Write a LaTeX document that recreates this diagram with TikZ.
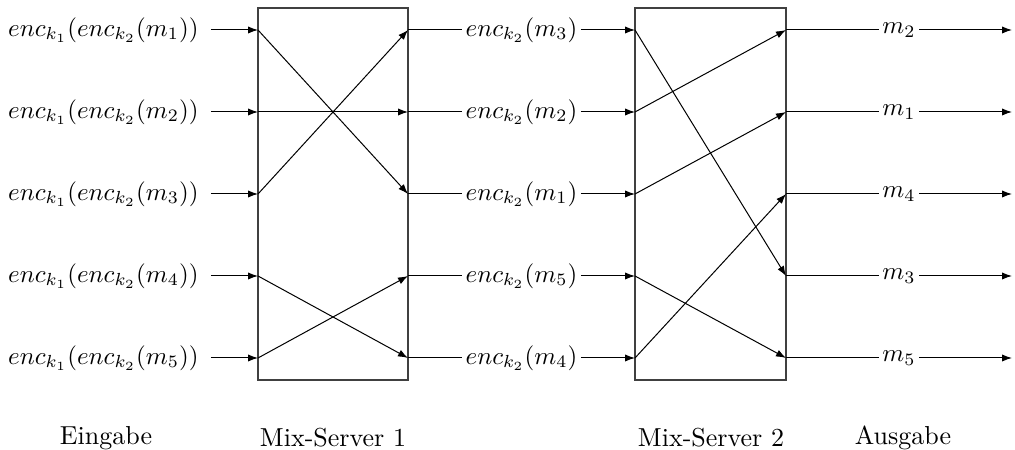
\documentclass[tikz,border=0pt]{standalone}
\usetikzlibrary{arrows.meta,fit,calc}
\begin{document}
\begin{tikzpicture}[x=0.40pt,y=-0.40pt,
  mixbox/.style={draw=black!75,line width=0.5pt,inner sep=0pt},
  flow/.style={line width=0.4pt},
  arr/.style={flow,-{Latex[length=4pt,width=2.9pt]}},
  lbl/.style={inner sep=1.2pt},
  caption/.style={font=\fontsize{10.4}{12}\selectfont}]
\useasboundingbox (0,0) rectangle (1015,450);

% port coordinates of both mix servers and the output ends
\foreach \i in {1,...,5}{
  \pgfmathsetmacro{\yy}{30+82*(\i-1)}
  \coordinate (A\i) at (258,\yy);
  \coordinate (B\i) at (408,\yy);
  \coordinate (C\i) at (635,\yy);
  \coordinate (D\i) at (786,\yy);
  \coordinate (E\i) at (1012,\yy);
}

% the two mix servers
\coordinate (m1nw) at (258,8);  \coordinate (m1se) at (408,380);
\coordinate (m2nw) at (635,8);  \coordinate (m2se) at (786,380);
\node[mixbox,fit=(m1nw)(m1se)] (mix1) {};
\node[mixbox,fit=(m2nw)(m2se)] (mix2) {};

% inputs
\foreach \i/\m in {1/1,2/2,3/3,4/4,5/5}{
  \node[lbl,anchor=east] (in\i) at (202,{30+82*(\i-1)}) {$enc_{k_1}(enc_{k_2}(m_{\m}))$};
  \draw[arr,shorten <=3.5pt] (in\i.east) -- (A\i);
}

% intermediate ciphertexts
\foreach \i/\m in {1/3,2/2,3/1,4/5,5/4}{
  \node[lbl] (mid\i) at ($(B\i)!0.5!(C\i)$) {$enc_{k_2}(m_{\m})$};
  \draw[flow] (B\i) -- (mid\i);
  \draw[arr] (mid\i) -- (C\i);
}

% outputs
\foreach \i/\m in {1/2,2/1,3/4,4/3,5/5}{
  \node[lbl] (out\i) at ($(D\i)!0.5!(E\i)$) {$m_{\m}$};
  \draw[flow] (D\i) -- (out\i);
  \draw[arr] (out\i) -- (E\i);
}

% permutation of mix server 1
\draw[arr] (A1) -- (B3);
\draw[arr] (A2) -- (B2);
\draw[arr] (A3) -- (B1);
\draw[arr] (A4) -- (B5);
\draw[arr] (A5) -- (B4);

% permutation of mix server 2
\draw[arr] (C1) -- (D4);
\draw[arr] (C2) -- (D1);
\draw[arr] (C3) -- (D2);
\draw[arr] (C4) -- (D5);
\draw[arr] (C5) -- (D3);

% captions
\node[caption] (capIn)  at (106,438) {Eingabe};
\node[caption] (capM1)  at (333,438) {Mix-Server 1};
\node[caption] (capM2)  at (711,438) {Mix-Server 2};
\node[caption] (capOut) at (903,438) {Ausgabe};
\end{tikzpicture}
\end{document}
